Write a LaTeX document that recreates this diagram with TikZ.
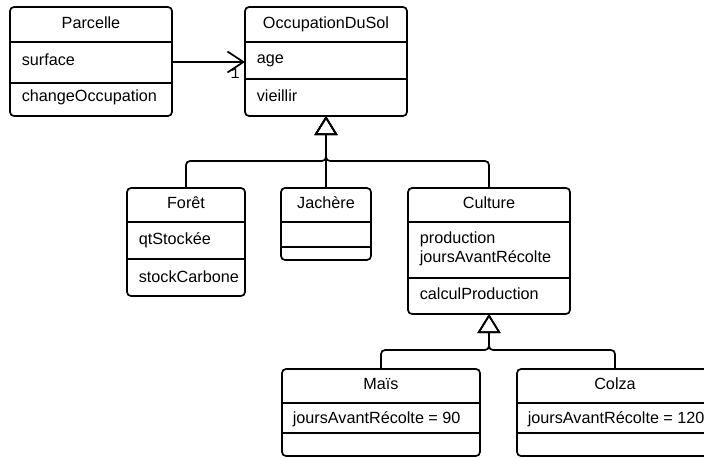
\documentclass[tikz,border=0pt]{standalone}
\usepackage{fontspec}
\setmainfont{Liberation Sans}
\setmonofont{Liberation Mono}
\usetikzlibrary{arrows.meta}

\begin{document}
\begin{tikzpicture}[x=1pt,y=-1pt,line width=1.7pt,font=\fontsize{16.2}{19}\selectfont]
    \tikzstyle{class}=[draw,rectangle,rounded corners=4pt,outer sep=0pt,inner sep=0pt]
    \tikzstyle{title}=[anchor=base,inner sep=0pt]
    \tikzstyle{member}=[anchor=base west,inner sep=0pt]
    \tikzstyle{isa}=[-{Triangle[open,length=19pt,width=23pt]},rounded corners=4pt]
    \tikzstyle{assoc}=[-{Straight Barb[length=16pt,width=21pt]}]

    \useasboundingbox (0,0) rectangle (704,458);
    \clip (0,0) rectangle (704,458);

    % Draw the class frames
    \foreach \name/\x/\y/\w/\h in {parcelle/91/61.5/162/109, occ/326/61.5/162/109,
                                   foret/186/242/118/108, jachere/326/224/90/72,
                                   culture/489/251/162/126, mais/381/412.5/198/87,
                                   colza/615/412.5/196/87}
        \node[class,minimum width=\w pt,minimum height=\h pt] (\name) at (\x,\y) {};

    % Split every class into name, attributes and operations
    \foreach \name/\a/\b in {parcelle/42/83, occ/42/79, foret/222/259, jachere/222/247,
                             culture/222/278, mais/403/433, colza/403/433}
    {
        \draw (\name.west |- 0,\a) -- (\name.east |- 0,\a);
        \draw (\name.west |- 0,\b) -- (\name.east |- 0,\b);
    }

    % Class names
    \node[title] (parcelle-t) at (91,28) {Parcelle};
    \node[title] (occ-t) at (326,28) {OccupationDuSol};
    \node[title] (foret-t) at (186,208) {Forêt};
    \node[title] (jachere-t) at (326,208) {Jachère};
    \node[title] (culture-t) at (489,208) {Culture};
    \node[title] (mais-t) at (381,389) {Maïs};
    \node[title] (colza-t) at (615,389) {Colza};

    % Attributes and operations
    \node[member] (parcelle-a) at (21,65) {surface};
    \node[member] (parcelle-o) at (21,101) {changeOccupation};
    \node[member] (occ-a) at (256,63) {age};
    \node[member] (occ-o) at (256,101) {vieillir};
    \node[member] (foret-a) at (138,244) {qtStockée};
    \node[member] (foret-o) at (138,282) {stockCarbone};
    \node[member] (culture-a1) at (419,243) {production};
    \node[member] (culture-a2) at (419,262) {joursAvantRécolte};
    \node[member] (culture-o) at (419,299) {calculProduction};
    \node[member] (mais-a) at (292,423) {joursAvantRécolte = 90};
    \node[member] (colza-a) at (527,423) {joursAvantRécolte = 120};

    % Association Parcelle -> OccupationDuSol
    \draw[assoc] (parcelle.east |- 0,62) -- (occ.west |- 0,62);
    \node[font=\ttfamily\fontsize{15}{15}\selectfont,inner sep=0pt] (mult) at (235,74) {1};

    % Generalisations
    \foreach \sub in {foret,culture}
        \draw[isa] (\sub.north) -- ++(0,-27) -| (occ.south);
    \draw[isa] (jachere.north) -- (occ.south);
    \foreach \sub in {mais,colza}
        \draw[isa] (\sub.north) -- ++(0,-19) -| (culture.south);
\end{tikzpicture}
\end{document}
